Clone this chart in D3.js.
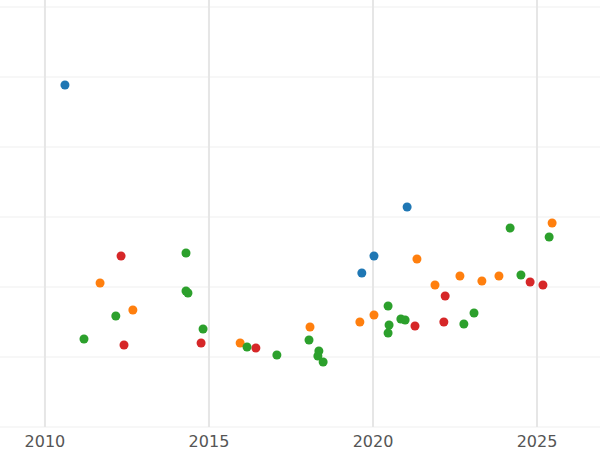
<!DOCTYPE html>
<html><head><meta charset="utf-8">
<script src="https://cdn.jsdelivr.net/npm/d3@7"></script>
<style>body{margin:0;background:#fff}</style></head>
<body><svg id="c" width="600" height="450"></svg>
<script>
const xTicks=[2010,2015,2020,2025];
const yGrid=[0,1,2,3,4,5,6];
const blueX=[2010.61,2021.04,2020.03,2019.66], blueY=[4.886,3.143,2.443,2.2];
const orangeX=[2011.68,2012.68,2015.95,2018.08,2019.6,2020.03,2021.34,2021.89,2022.65,2023.32,2023.84,2025.46];
const orangeY=[2.057,1.671,1.2,1.429,1.5,1.6,2.4,2.029,2.157,2.086,2.157,2.914];
const redX=[2012.32,2012.41,2014.76,2016.43,2021.28,2022.2,2022.16,2024.79,2025.18];
const redY=[2.443,1.171,1.2,1.129,1.443,1.871,1.5,2.071,2.029];
const greenX=[2011.19,2012.16,2014.3,2014.3,2014.36,2014.82,2016.16,2017.07,2018.05,2018.35,2018.32,2018.48,2020.46,2020.49,2020.46,2020.85,2020.98,2022.77,2023.08,2024.18,2024.51,2025.37];
const greenY=[1.257,1.586,2.486,1.943,1.914,1.4,1.143,1.029,1.243,1.086,1.014,0.929,1.729,1.457,1.343,1.543,1.529,1.471,1.629,2.843,2.171,2.714];
const series=[[blueX,blueY,"#1f77b4"],[orangeX,orangeY,"#ff7f0e"],[redX,redY,"#d62728"],[greenX,greenY,"#2ca02c"]];
const svg=d3.select("#c");
const x=d3.scaleLinear().domain([2008.63,2026.92]).range([0,600]);
const y=d3.scaleLinear().domain([0,6]).range([427,7]);
svg.append("g").selectAll("line").data(yGrid).join("line")
 .attr("x1",0).attr("x2",600).attr("y1",d=>y(d)).attr("y2",d=>y(d)).attr("stroke","#efefef");
svg.append("g").selectAll("line").data(xTicks).join("line")
 .attr("x1",d=>x(d)).attr("x2",d=>x(d)).attr("y1",0).attr("y2",427).attr("stroke","#e6e6e6").attr("stroke-width",2);
svg.append("g").selectAll("text").data(xTicks).join("text")
 .attr("x",d=>x(d)).attr("y",447).attr("text-anchor","middle")
 .attr("font-family","DejaVu Sans").attr("font-size",16).attr("fill","#555").text(d=>d);
series.forEach(([xs,ys,c])=>{
 svg.append("g").selectAll("circle").data(xs).join("circle")
  .attr("cx",d=>x(d)).attr("cy",(d,i)=>y(ys[i])).attr("r",4.5).attr("fill",c);
});
</script></body></html>
